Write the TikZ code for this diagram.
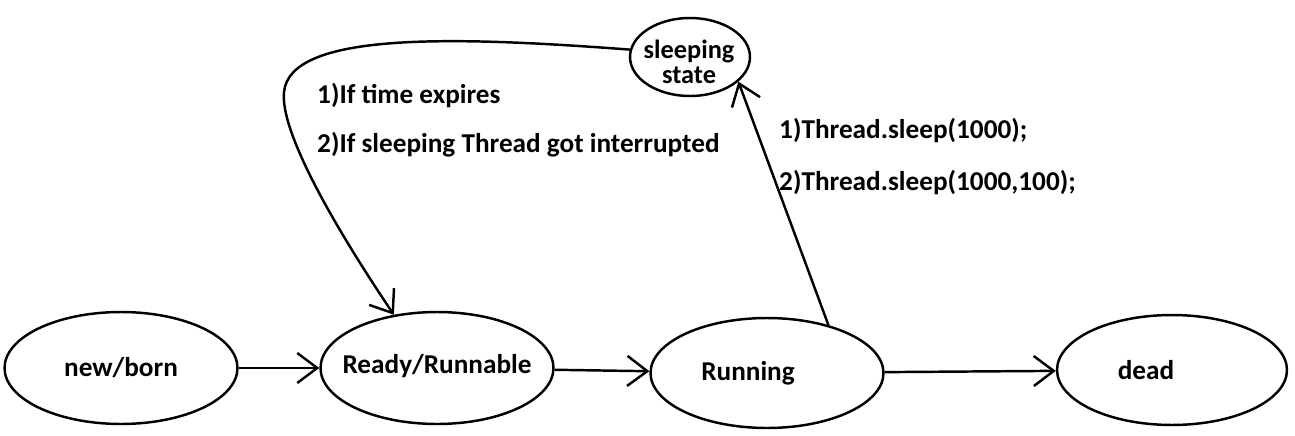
\documentclass[tikz,border=0pt]{standalone}
\usepackage{fontspec}
\setmainfont{Carlito}
\usetikzlibrary{arrows.meta,shapes.geometric}
\begin{document}
\begin{tikzpicture}[x=0.02cm, y=-0.02cm, line width=1.4pt,
		font=\fontsize{15.5}{15.5}\selectfont\bfseries,
		state/.style={draw, ellipse, inner sep=0pt, minimum width=4.66cm, minimum height=2.24cm},
		cond/.style={anchor=west, inner sep=0pt},
		arr/.style={-{Straight Barb[length=0.4cm, width=0.6cm]}}
	]
		\useasboundingbox (0, 0) rectangle (1295, 436);
		\node[state, label=center:new/born] (born) at (121, 368) {};
		\node[state, label={[yshift=0.04cm]center:Ready/Runnable}] (ready) at (437, 368) {};
		\node[state, minimum height=2.2cm, label={[xshift=-0.38cm]center:Running}] (running) at (767, 373) {};
		\node[state, minimum width=4.6cm, minimum height=2.2cm, label={[xshift=-0.52cm]center:dead}] (dead) at (1172, 370) {};
		\node[state, minimum width=2.4cm, minimum height=1.56cm] (sleep) at (690, 57) {};
		\node[align=center, inner sep=0pt, font=\fontsize{15}{14}\selectfont\bfseries] (sleeptxt) at (689, 62) {sleeping\\state};
		\foreach \n/\x/\y/\t in {
			expire/316/96/{1)If time expires},
			interrupt/316/145/{2)If sleeping Thread got interrupted},
			sleepone/778/131/{1)Thread.sleep(1000);},
			sleeptwo/778/183/{2)Thread.sleep(1000,100);}
		} {
			\node[cond] (\n) at (\x, \y) {\t};
		}
		\draw[arr] (born) -- (ready);
		\draw[arr] (ready) -- (running);
		\draw[arr] (running) -- (dead);
		\draw[arr] (running.38) -- (sleep.-27);
		\draw[arr] (sleep.173) .. controls (450, 36) and (290, 32) .. (284, 92)
			.. controls (280, 130) and (330, 220) .. (ready.129);
	\end{tikzpicture}
\end{document}
